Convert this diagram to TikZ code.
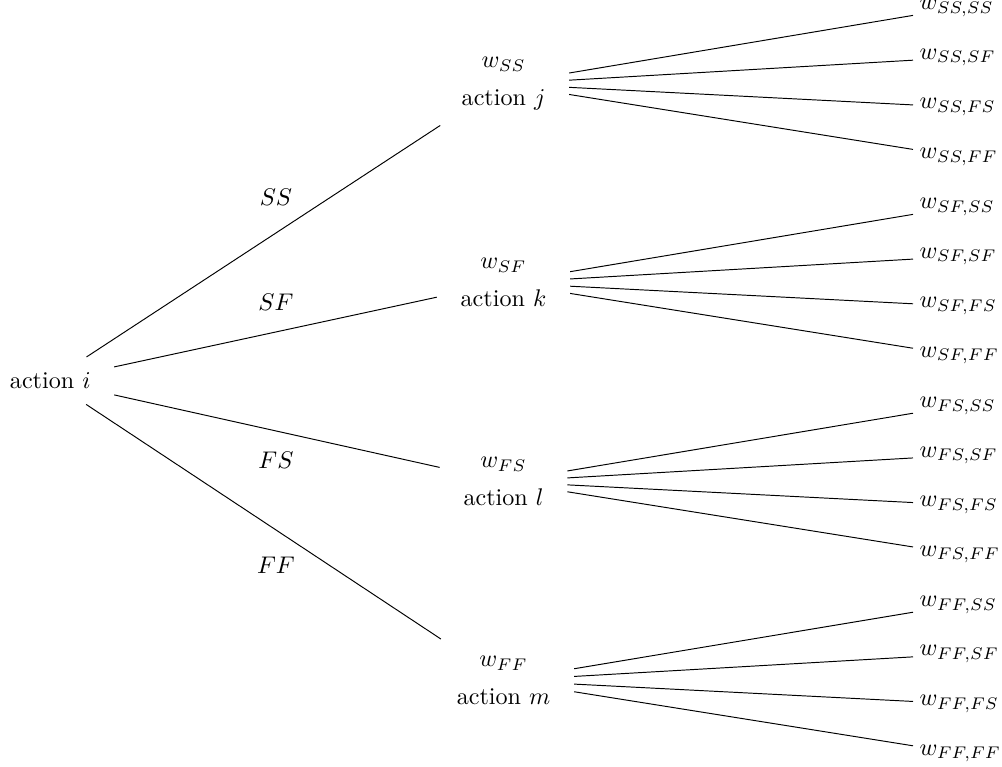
\documentclass[tikz,border=0pt]{standalone}
\begin{document}
\begin{tikzpicture}[x=0.4149pt,y=-0.4149pt,
  rootnode/.style={inner xsep=9.6pt, inner ysep=6.3pt},
  midnode/.style={align=center, inner xsep=9.7pt, inner ysep=0pt, minimum height=34pt},
  leafnode/.style={anchor=west, inner xsep=2.5pt, inner ysep=2pt},
  edgelabel/.style={inner sep=0pt},
  conn/.style={line width=0.4pt}]
\useasboundingbox (0,0) rectangle (1002,767);
% root
\node[rootnode] (r) at (50.3,380.7) {action $i$};
% level 1
\node[midnode] (ss) at (503.5,84.0)  {$w_{SS}$\\[3.8pt]action $j$};
\node[midnode] (sf) at (503.5,282.8) {$w_{SF}$\\[3.8pt]action $k$};
\node[midnode] (fs) at (503.5,481.6) {$w_{FS}$\\[3.8pt]action $l$};
\node[midnode] (ff) at (503.5,680.5) {$w_{FF}$\\[3.8pt]action $m$};
\draw[conn] (r) -- (ss);
\draw[conn] (r) -- (sf);
\draw[conn] (r) -- (fs);
\draw[conn] (r) -- (ff);
% edge labels
\node[edgelabel] (lss) at (276,197.5) {$SS$};
\node[edgelabel] (lsf) at (276,302) {$SF$};
\node[edgelabel] (lfs) at (276,460) {$FS$};
\node[edgelabel] (lff) at (276,565.5) {$FF$};
% leaves
\node[leafnode] (ssss) at (913,8.1)   {$w_{SS,SS}$};
\node[leafnode] (sssf) at (913,57.6)  {$w_{SS,SF}$};
\node[leafnode] (ssfs) at (913,107.2) {$w_{SS,FS}$};
\node[leafnode] (ssff) at (913,156.7) {$w_{SS,FF}$};
\node[leafnode] (sfss) at (913,207.0) {$w_{SF,SS}$};
\node[leafnode] (sfsf) at (913,256.5) {$w_{SF,SF}$};
\node[leafnode] (sffs) at (913,306.1) {$w_{SF,FS}$};
\node[leafnode] (sfff) at (913,355.6) {$w_{SF,FF}$};
\node[leafnode] (fsss) at (913,405.8) {$w_{FS,SS}$};
\node[leafnode] (fssf) at (913,455.3) {$w_{FS,SF}$};
\node[leafnode] (fsfs) at (913,504.9) {$w_{FS,FS}$};
\node[leafnode] (fsff) at (913,554.4) {$w_{FS,FF}$};
\node[leafnode] (ffss) at (913,604.7) {$w_{FF,SS}$};
\node[leafnode] (ffsf) at (913,654.2) {$w_{FF,SF}$};
\node[leafnode] (fffs) at (913,703.8) {$w_{FF,FS}$};
\node[leafnode] (ffff) at (913,753.3) {$w_{FF,FF}$};
\foreach \p in {ss,sf,fs,ff}{
  \foreach \q in {ss,sf,fs,ff}{
    \draw[conn] (\p) -- (\p\q);
  }
}
\end{tikzpicture}
\end{document}
